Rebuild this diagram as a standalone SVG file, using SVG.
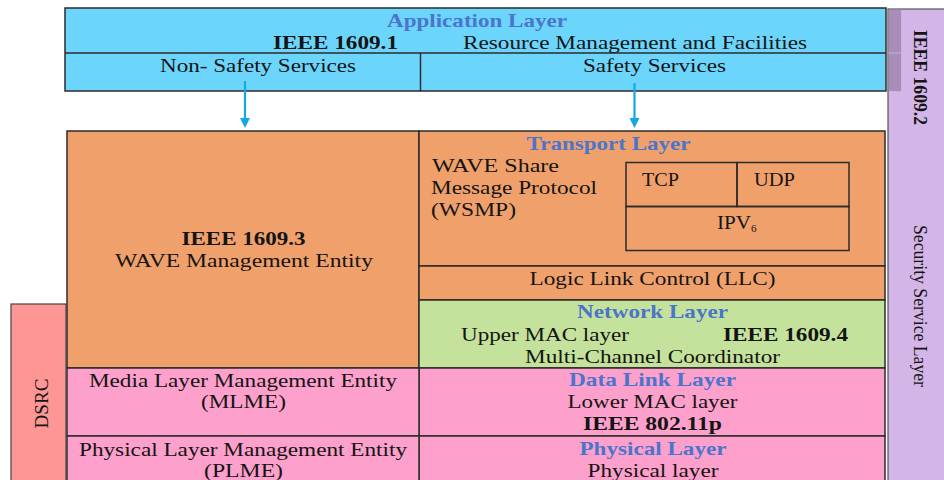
<svg xmlns="http://www.w3.org/2000/svg" width="944" height="480" viewBox="0 0 944 480">
<style>
text{font-family:"Liberation Serif","Times New Roman",serif;font-size:19px;fill:#141414}
.b{font-weight:bold}
.h{font-weight:bold;fill:#4b74cc}
.c{text-anchor:middle}
.box{stroke:#2b2b2b;stroke-width:1.5}
.cy{fill:#6cd5fc}.or{fill:#f0a16b}.gr{fill:#c4e29b}.pk{fill:#fda0cb}.ds{fill:#fd9694}.pu{fill:#d3b6e7}
.ln{fill:none;stroke:#2b2b2b;stroke-width:1.5}
.arr{stroke:#16a6e2;stroke-width:2.2;fill:none}
.ahd{fill:#16a6e2}
</style>
<rect width="944" height="480" fill="#ffffff"/>

<g id="security">
<rect class="pu" x="888" y="9" width="60" height="475" stroke="#555" stroke-width="1.2"/>
<rect x="888.6" y="9.6" width="12.5" height="81.5" fill="#a88db8"/>
<line x1="888.6" y1="53" x2="901" y2="53" stroke="#c9b3d6" stroke-width="1"/>
<text class="b" transform="translate(914,77.5) rotate(90)" text-anchor="middle" font-size="18.5" textLength="95" lengthAdjust="spacingAndGlyphs">IEEE 1609.2</text>
<text transform="translate(914,306) rotate(90)" text-anchor="middle" font-size="18.5" textLength="162" lengthAdjust="spacingAndGlyphs">Security Service Layer</text>
</g>

<g id="application">
<rect class="box cy" x="65" y="8" width="821" height="83"/>
<line class="ln" x1="65" y1="53" x2="886" y2="53"/>
<line class="ln" x1="420.5" y1="53" x2="420.5" y2="91"/>
<text class="h c" x="477" y="27" textLength="180" lengthAdjust="spacingAndGlyphs">Application Layer</text>
<text class="b" x="273" y="48.5" textLength="125" lengthAdjust="spacingAndGlyphs">IEEE 1609.1</text>
<text x="463" y="48.5" textLength="344" lengthAdjust="spacingAndGlyphs">Resource Management and Facilities</text>
</g>
<g id="non-safety">
<text class="c" x="258" y="72" textLength="196" lengthAdjust="spacingAndGlyphs">Non- Safety Services</text>
</g>
<g id="safety">
<text class="c" x="654.5" y="72" textLength="143" lengthAdjust="spacingAndGlyphs">Safety Services</text>
</g>

<g id="wme">
<rect class="box or" x="67" y="131" width="352" height="237"/>
<text class="b c" x="243.5" y="245" textLength="124" lengthAdjust="spacingAndGlyphs">IEEE 1609.3</text>
<text class="c" x="244" y="267" textLength="258" lengthAdjust="spacingAndGlyphs">WAVE Management Entity</text>
</g>

<g id="transport">
<rect class="box or" x="419" y="131" width="466" height="135"/>
<text class="h c" x="608.5" y="150" textLength="164" lengthAdjust="spacingAndGlyphs">Transport Layer</text>
<text x="432" y="172" textLength="127" lengthAdjust="spacingAndGlyphs">WAVE Share</text>
<text x="431" y="194" textLength="166" lengthAdjust="spacingAndGlyphs">Message Protocol</text>
<text x="431" y="216" textLength="85" lengthAdjust="spacingAndGlyphs">(WSMP)</text>
</g>
<g id="tcp">
<rect class="box" fill="none" x="626" y="162.5" width="111" height="44"/>
<text x="642" y="186" textLength="37" lengthAdjust="spacingAndGlyphs">TCP</text>
</g>
<g id="udp">
<rect class="box" fill="none" x="737" y="162.5" width="112" height="44"/>
<text x="754" y="186" textLength="41" lengthAdjust="spacingAndGlyphs">UDP</text>
</g>
<g id="ipv6">
<rect class="box" fill="none" x="626" y="206.5" width="223" height="44"/>
<text x="717" y="229"><tspan textLength="34" lengthAdjust="spacingAndGlyphs">IPV</tspan><tspan font-size="11" dy="3">6</tspan></text>
</g>

<g id="llc">
<rect class="box or" x="419" y="266" width="466" height="34"/>
<text class="c" x="652.5" y="285" textLength="246" lengthAdjust="spacingAndGlyphs">Logic Link Control (LLC)</text>
</g>

<g id="network">
<rect class="box gr" x="419" y="300" width="466" height="68"/>
<text class="h c" x="652.5" y="318" textLength="151" lengthAdjust="spacingAndGlyphs">Network Layer</text>
<text x="461" y="341" textLength="168" lengthAdjust="spacingAndGlyphs">Upper MAC layer</text>
<text class="b" x="723" y="341" textLength="125" lengthAdjust="spacingAndGlyphs">IEEE 1609.4</text>
<text class="c" x="652.5" y="363" textLength="255" lengthAdjust="spacingAndGlyphs">Multi-Channel Coordinator</text>
</g>

<g id="datalink">
<rect class="box pk" x="419" y="368" width="466" height="68"/>
<text class="h c" x="652.5" y="386" textLength="167" lengthAdjust="spacingAndGlyphs">Data Link Layer</text>
<text class="c" x="652.5" y="408" textLength="170" lengthAdjust="spacingAndGlyphs">Lower MAC layer</text>
<text class="b c" x="652.5" y="430" textLength="139" lengthAdjust="spacingAndGlyphs">IEEE 802.11p</text>
</g>

<g id="physical">
<rect class="box pk" x="419" y="436" width="466" height="50"/>
<text class="h c" x="653" y="455" textLength="147" lengthAdjust="spacingAndGlyphs">Physical Layer</text>
<text class="c" x="653" y="477" textLength="131" lengthAdjust="spacingAndGlyphs">Physical layer</text>
</g>

<g id="mlme">
<rect class="box pk" x="67" y="368" width="352" height="68"/>
<text class="c" x="243" y="387" textLength="308" lengthAdjust="spacingAndGlyphs">Media Layer Management Entity</text>
<text class="c" x="243.5" y="408" textLength="85" lengthAdjust="spacingAndGlyphs">(MLME)</text>
</g>

<g id="plme">
<rect class="box pk" x="67" y="436" width="352" height="50"/>
<text class="c" x="243" y="456" textLength="328" lengthAdjust="spacingAndGlyphs">Physical Layer Management Entity</text>
<text class="c" x="243.5" y="477" textLength="79" lengthAdjust="spacingAndGlyphs">(PLME)</text>
</g>

<g id="dsrc">
<rect class="ds" x="11" y="304" width="55" height="182" stroke="#444" stroke-width="1.2"/>
<text transform="translate(47.5,403.5) rotate(-90)" text-anchor="middle" font-size="22" textLength="50" lengthAdjust="spacingAndGlyphs">DSRC</text>
</g>

<g id="connectors">
<path class="arr" d="M245,81 L245,120"/>
<path class="ahd" d="M240,118 L250,118 L245,128 Z"/>
<path class="arr" d="M634.5,83 L634.5,120"/>
<path class="ahd" d="M629.5,118 L639.5,118 L634.5,128 Z"/>
</g>
</svg>
